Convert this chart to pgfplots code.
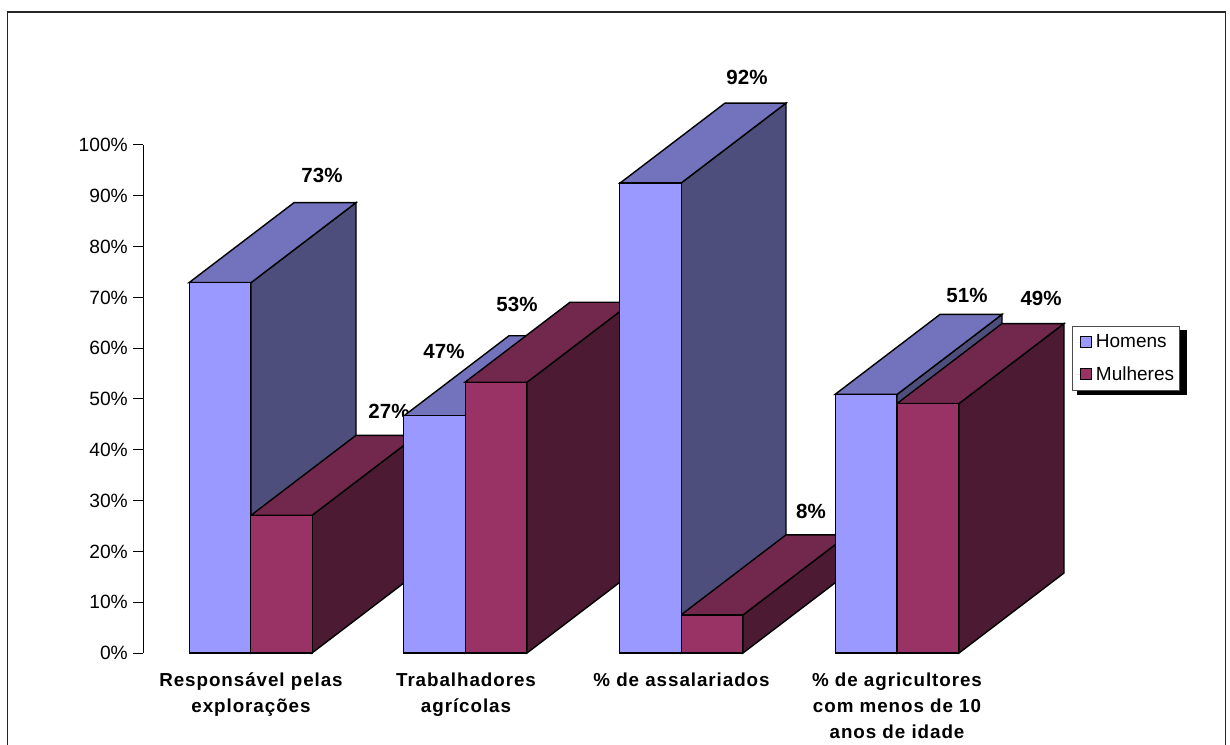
\documentclass[border=0pt]{standalone}
\usepackage{fontspec}
\setmainfont{Liberation Sans}
\newfontfamily\catfont[LetterSpace=5]{Liberation Sans}
\usepackage{pgfplots}
\pgfplotsset{compat=1.18}
\definecolor{hf}{HTML}{9999FF}
\definecolor{ht}{HTML}{7373BD}
\definecolor{hs}{HTML}{4E4E7D}
\definecolor{mf}{HTML}{993366}
\definecolor{mt}{HTML}{72274C}
\definecolor{ms}{HTML}{4C1B33}
\newcommand{\vallab}{\fontsize{20.5}{24}\selectfont\bfseries}
\begin{document}
\begin{tikzpicture}[x=1pt,y=1pt]
\useasboundingbox (0,0) rectangle (1230,744);
\draw[line width=1.2pt,black!85] (7.5,-2) -- (7.5,732) -- (1225.5,732) -- (1225.5,-2);
\begin{axis}[
  at={(143pt,91pt)}, anchor=south west,
  x=1pt, y=5.08pt,
  xmin=143, xmax=1100, ymin=0, ymax=100,
  clip=false,
  axis y line*=left, axis x line*=bottom,
  x axis line style={draw=none},
  y axis line style={-, line width=1pt, black},
  xtick={251,466,681.5,897},
  xticklabels={{Responsável pelas\\explorações},{Trabalhadores\\agrícolas},{\% de assalariados},{\% de agricultores\\com menos de 10\\anos de idade}},
  x tick style={draw=none},
  x tick label style={align=center, font=\fontsize{18.8}{26}\catfont\bfseries, yshift=-5pt},
  ytick={0,10,...,100},
  yticklabel={\pgfmathprintnumber{\tick}\%},
  y tick label style={font=\fontsize{19.2}{22}\selectfont, /pgf/number format/assume math mode=true},
  y tick style={line width=1pt, black},
  tick align=outside, major tick length=10pt,
  ticklabel style={inner sep=5pt},
  legend style={at={(axis cs:1072,64.4)}, anchor=north west, draw=black!70, line width=0.9pt, fill=white,
    font=\fontsize{19}{22}\selectfont, row sep=13pt, inner xsep=3pt, inner ysep=6.5pt},
  legend cell align=left,
  legend image code/.code={\path[draw=none] (0pt,0pt) -- (18.5pt,0pt);\draw[#1, line width=1pt] (5pt,-5.5pt) rectangle (16.5pt,5.5pt);},
  every axis plot/.append style={line join=miter},
]
\pgfplotsset{face/.style={draw=black, line width=1.4pt, forget plot, mark=none}}
% Responsável pelas explorações
\addplot[face, fill=hs] coordinates {(251,0) (251,72.9) (356,88.65) (356,15.75)} -- cycle;
\addplot[face, fill=ht] coordinates {(189,72.9) (251,72.9) (356,88.65) (294,88.65)} -- cycle;
\addplot[face, fill=ms] coordinates {(312,0) (312,27.1) (417,42.85) (417,15.75)} -- cycle;
\addplot[face, fill=mt] coordinates {(251,27.1) (312,27.1) (417,42.85) (356,42.85)} -- cycle;
\addplot[draw=none, forget plot, mark=none] coordinates {(389,47.6)} node[font=\vallab, text=black] {27\%};
% Trabalhadores agrícolas
\addplot[face, fill=hs] coordinates {(465,0) (465,46.7) (570,62.45) (570,15.75)} -- cycle;
\addplot[face, fill=ht] coordinates {(404,46.7) (465,46.7) (570,62.45) (509,62.45)} -- cycle;
\addplot[face, fill=ms] coordinates {(527,0) (527,53.3) (632,69.05) (632,15.75)} -- cycle;
\addplot[face, fill=mt] coordinates {(465,53.3) (527,53.3) (632,69.05) (570,69.05)} -- cycle;
% % de assalariados
\addplot[face, fill=hs] coordinates {(681,0) (681,92.5) (786,108.25) (786,15.75)} -- cycle;
\addplot[face, fill=ht] coordinates {(620,92.5) (681,92.5) (786,108.25) (725,108.25)} -- cycle;
\addplot[face, fill=ms] coordinates {(743,0) (743,7.5) (848,23.25) (848,15.75)} -- cycle;
\addplot[face, fill=mt] coordinates {(681,7.5) (743,7.5) (848,23.25) (786,23.25)} -- cycle;
% % de agricultores
\addplot[face, fill=hs] coordinates {(897,0) (897,50.9) (1002,66.65) (1002,15.75)} -- cycle;
\addplot[face, fill=ht] coordinates {(835,50.9) (897,50.9) (1002,66.65) (940,66.65)} -- cycle;
\addplot[face, fill=ms] coordinates {(959,0) (959,49.1) (1064,64.85) (1064,15.75)} -- cycle;
\addplot[face, fill=mt] coordinates {(897,49.1) (959,49.1) (1064,64.85) (1002,64.85)} -- cycle;
% Front faces
\addplot[ybar, bar shift=0pt, bar width=61.5pt, fill=hf, draw=black, line width=1.4pt]
  coordinates {(220,72.9) (434.5,46.7) (650.5,92.5) (866,50.9)};
\addplot[ybar, bar shift=0pt, bar width=61.5pt, fill=mf, draw=black, line width=1.4pt]
  coordinates {(281.5,27.1) (496,53.3) (712,7.5) (928,49.1)};
% Legend shadow
\addplot[fill=black, draw=none, forget plot, mark=none] coordinates {(1077,63.5) (1187,63.5) (1187,50.8) (1077,50.8)} -- cycle;
\legend{Homens,Mulheres}
\node[font=\vallab] at (axis cs:322,94.1) {73\%};
\node[font=\vallab] at (axis cs:444,59.4) {47\%};
\node[font=\vallab] at (axis cs:517,68.7) {53\%};
\node[font=\vallab] at (axis cs:747,113.2) {92\%};
\node[font=\vallab] at (axis cs:811,27.8) {8\%};
\node[font=\vallab] at (axis cs:967,70.3) {51\%};
\node[font=\vallab] at (axis cs:1041,69.7) {49\%};
\end{axis}
\end{tikzpicture}
\end{document}
